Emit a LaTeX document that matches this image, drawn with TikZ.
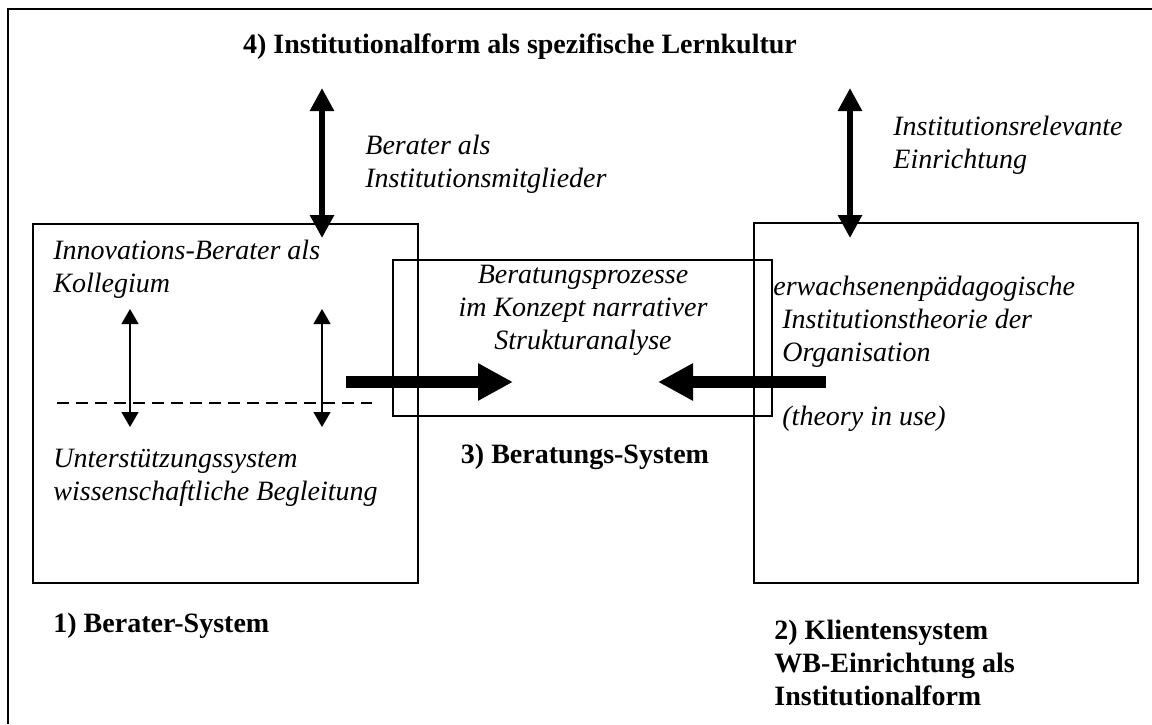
\documentclass[tikz,border=0pt]{standalone}
\usepackage{fontspec}
\setmainfont{Liberation Serif}
\usetikzlibrary{arrows.meta,positioning}

\begin{document}
\begin{tikzpicture}[x=0.5pt,y=-0.5pt,
  sys/.style={draw,line width=1pt,inner sep=0pt},
  lbl/.style={font=\fontsize{14}{16.3}\selectfont\itshape,align=left,
              inner sep=0pt,anchor=base west},
  ttl/.style={font=\fontsize{14}{16.3}\selectfont\bfseries,align=left,
              inner sep=0pt,anchor=base west},
  thk/.style={-{Triangle[length=17.5pt,width=17.5pt]},line width=6pt},
  dbl/.style={{Triangle[length=11.5pt,width=11.5pt]}-{Triangle[length=11.5pt,width=11.5pt]},
              line width=3pt},
  thn/.style={{Triangle[length=7.5pt,width=8.5pt]}-{Triangle[length=7.5pt,width=8.5pt]},
              line width=0.6pt}
]
\useasboundingbox (0,0) rectangle (1152,724);
\draw[line width=1.2pt] (8,724) -- (8,9) -- (1152,9);

% the three systems
\node[sys,minimum width=192.5pt,minimum height=179.5pt] (berater) at (225.5,403.5) {};
\node[sys,minimum width=192pt,minimum height=180pt] (klient) at (946,403) {};
\node[sys,minimum width=189.5pt,minimum height=78pt] (beratung) at (582.5,338) {};

% labels (multi-line ones sit on their last baseline)
\node[ttl,anchor=base] (kultur) at (520,53) {4) Institutionalform als spezifische Lernkultur};
\node[lbl] (mitglied) at (365,187) {Berater als\\Institutionsmitglieder};
\node[lbl] (relevant) at (893,168) {Institutionsrelevante\\Einrichtung};
\node[lbl] (kollegium) at (53,292) {Innovations-Berater als\\Kollegium};
\node[lbl] (stuetz) at (53,500) {Unterstützungssystem\\wissenschaftliche Begleitung};
\node[lbl,align=center,anchor=base] (prozess) at (583,349)
  {Beratungsprozesse\\im Konzept narrativer\\Strukturanalyse};
\node[lbl] (theorie) at (773,361)
  {erwachsenenpädagogische\\\hspace{4.5pt}Institutionstheorie der\\\hspace{4.5pt}Organisation};
\node[lbl] (inuse) at (782,425) {(theory in use)};
\node[ttl,anchor=base] (sys3) at (585,463) {3) Beratungs-System};
\node[ttl] (sys1) at (53,632) {1) Berater-System};
\node[ttl] (sys2) at (774,705) {2) Klientensystem\\WB-Einrichtung als\\Institutionalform};

% arrow ends
\coordinate (bTop) at (322,88);
\coordinate (bBot) at (322,238);
\coordinate (kTop) at (850,88);
\coordinate (kBot) at (850,238);
\coordinate (lFrom) at (346,382);
\coordinate (lTo) at (513,382);
\coordinate (rFrom) at (826,382);
\coordinate (rTo) at (658,382);
\coordinate (aTop) at (130,309);
\coordinate (aBot) at (130,427);
\coordinate (cTop) at (322,309);
\coordinate (cBot) at (322,427);
\coordinate (dL) at (57,403);
\coordinate (dR) at (372,403);

\draw[dbl] (bTop) -- (bBot);
\draw[dbl] (kTop) -- (kBot);
\draw[thk] (lFrom) -- (lTo);
\draw[thk] (rFrom) -- (rTo);
\draw[thn] (aTop) -- (aBot);
\draw[thn] (cTop) -- (cBot);
\draw[dashed,line width=0.75pt,dash pattern=on 6pt off 3.5pt] (dL) -- (dR);
\end{tikzpicture}
\end{document}
